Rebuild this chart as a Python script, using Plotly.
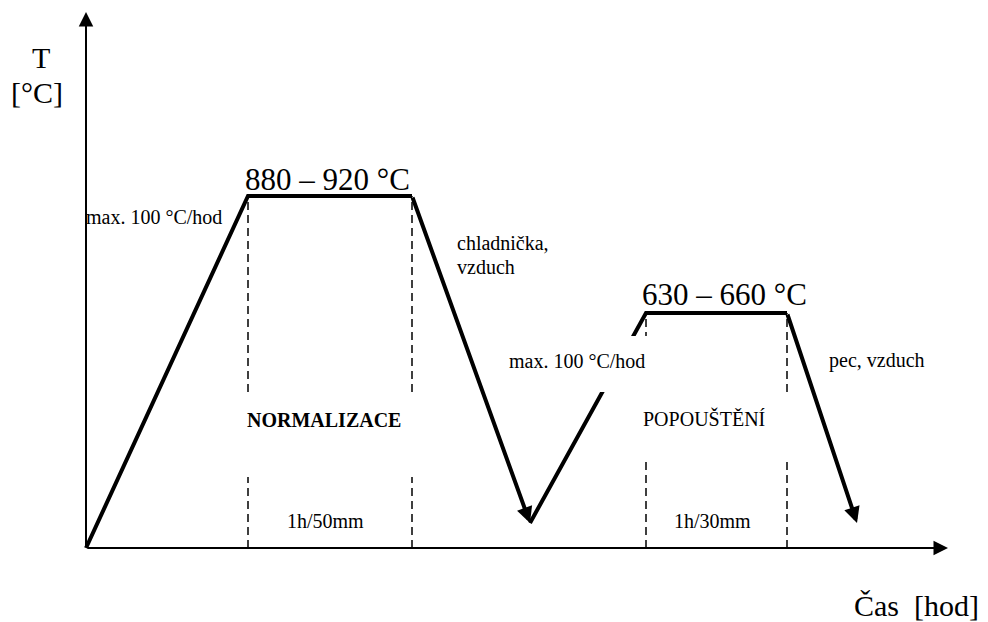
import plotly.graph_objects as go

# ---- data read from the schematic (arbitrary time / temperature units) ----
time = [0.0, 16.2, 32.6, 44.4, 56.0, 70.1, 77.1]
temp = [0.0, 35.2, 35.2, 2.5, 23.5, 23.5, 2.5]

heat_runs = [[0, 1, 2], [3, 4, 5]]   # heating + holding parts (plain thick line)
cool_runs = [[2, 3], [5, 6]]         # cooling parts (thick arrows)
hold_marks = [1, 2, 4, 5]            # dashed verticals at start/end of holding

axis_len_x = 86.2
axis_len_y = 53.6

texts = ["T", "[°C]", "880 – 920 °C", "630 – 660 °C", "max. 100 °C/hod",
         "chladnička,", "vzduch", "max. 100 °C/hod", "pec, vzduch",
         "<b>NORMALIZACE</b>", "POPOUŠTĚNÍ", "1h/50mm", "1h/30mm", "Čas\u00a0 [hod]"]

FONT = "Liberation Serif"

fig = go.Figure()

# dashed guide lines
for i in hold_marks:
    fig.add_trace(go.Scatter(x=[time[i], time[i]], y=[0, temp[i]], mode="lines",
                             line=dict(color="black", width=1.5, dash="8px,5px"),
                             hoverinfo="skip"))

# heating and holding segments
for run in heat_runs:
    fig.add_trace(go.Scatter(x=[time[i] for i in run], y=[temp[i] for i in run],
                             mode="lines", line=dict(color="black", width=4),
                             hoverinfo="skip"))

# white label boxes that interrupt the lines (as in the original drawing)
masks = [(15.2, 33.6, 7.1, 15.3), (55.0, 70.9, 9.0, 15.1), (41.4, 56.6, 15.6, 21.2)]
shapes = []
for x0, x1, y0, y1 in masks:
    shapes.append(dict(type="rect", xref="x", yref="y", x0=x0, x1=x1, y0=y0, y1=y1,
                       fillcolor="white", line=dict(width=0), layer="above"))

annotations = []
# axes as arrows
annotations.append(dict(x=axis_len_x, y=0, ax=0, ay=0, xref="x", yref="y", axref="x", ayref="y",
                        text="", showarrow=True, arrowhead=2, arrowwidth=2, arrowsize=1.45,
                        arrowcolor="black", standoff=0))
annotations.append(dict(x=0, y=axis_len_y, ax=0, ay=0, xref="x", yref="y", axref="x", ayref="y",
                        text="", showarrow=True, arrowhead=2, arrowwidth=2, arrowsize=1.45,
                        arrowcolor="black", standoff=0))
# cooling arrows
for a, b in cool_runs:
    annotations.append(dict(x=time[b], y=temp[b], ax=time[a], ay=temp[a], xref="x", yref="y",
                            axref="x", ayref="y", text="", showarrow=True, arrowhead=2,
                            arrowwidth=4, arrowsize=0.8, arrowcolor="black", standoff=0))

# label placement (pixel-derived positions in axis units)
place = [
    (-4.5, 49.1, "center", 30),
    (-4.9, 45.6, "center", 30),
    (24.1, 36.9, "center", 31),
    (63.8, 25.4, "center", 31),
    (-0.2, 33.1, "left", 20),
    (36.9, 30.5, "left", 20),
    (36.9, 28.1, "left", 20),
    (49.1, 18.7, "center", 20),
    (79.1, 18.8, "center", 20),
    (23.75, 12.8, "center", 20),
    (61.8, 13.0, "center", 20),
    (23.9, 2.7, "center", 20),
    (62.6, 2.7, "center", 20),
    (83.0, -5.7, "center", 30),
]
for t, (x, y, anc, size) in zip(texts, place):
    annotations.append(dict(x=x, y=y, xref="x", yref="y", text=t, showarrow=False,
                            xanchor=anc, yanchor="middle",
                            font=dict(family=FONT, size=size, color="black")))

# the page body has an 8px margin, so the figure is 980x614 to fill the window
fig.update_layout(
    width=980, height=614, autosize=False,
    margin=dict(l=0, r=0, t=0, b=0, pad=0),
    paper_bgcolor="white", plot_bgcolor="white",
    showlegend=False,
    xaxis=dict(range=[-7.8, 90.2], visible=False, fixedrange=True),
    yaxis=dict(range=[-7.4, 54.0], visible=False, fixedrange=True),
    shapes=shapes, annotations=annotations,
)

fig.write_html("out.html")
